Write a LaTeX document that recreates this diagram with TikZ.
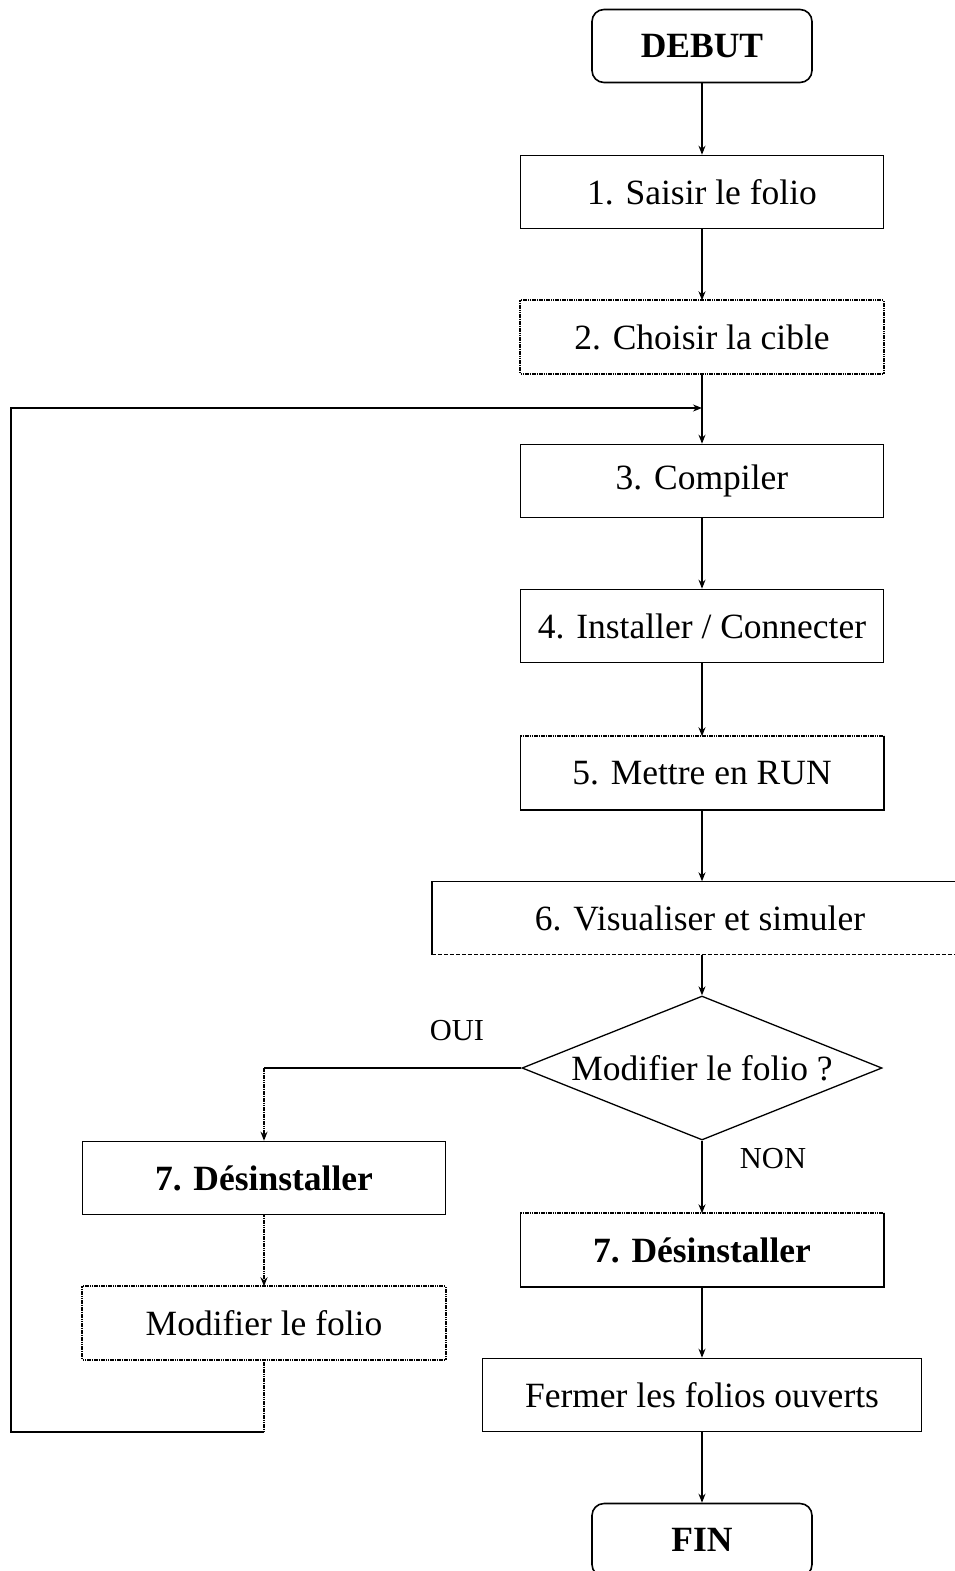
\documentclass[tikz,border=0pt]{standalone}
\usepackage{fontspec}
\setmainfont{Liberation Serif}
\usetikzlibrary{positioning,arrows.meta,shapes.geometric}

\begin{document}
\begin{tikzpicture}[x=1pt,y=-1pt,
    box/.style={minimum width=363pt,minimum height=73pt,inner sep=0pt,font=\fontsize{35.5}{40}\selectfont},
    blk/.style={box,draw,line width=1.6pt},
    term/.style={blk,rounded corners=12pt,minimum width=220pt,font=\fontsize{35.5}{40}\selectfont\bfseries},
    lbl/.style={inner sep=0pt,font=\fontsize{30.5}{34}\selectfont},
    edge/.style={line width=1.6pt},
    dots/.style={line width=1.9pt,dash pattern=on 1.6pt off 0.7pt},
    fine dash/.style={line width=1.2pt,dash pattern=on 4pt off 2pt},
    lnk/.style={line width=1.3pt},
    tip/.style={-{Stealth[length=9pt,width=7pt]}}]
    \useasboundingbox (0,0) rectangle (954,1571);

    \node[term] (debut) at (702,46) {DEBUT};
    \node[blk] (saisir) at (702,192) {1. Saisir le folio};
    \node[box] (cible) at (702,337) {2. Choisir la cible};
    \node[blk] (compil) at (702,481) {3. Compiler};
    \node[blk] (instal) at (702,626) {4. Installer / Connecter};
    \node[box] (run) at (702,773) {5. Mettre en RUN};
    \node[box,minimum width=536pt] (visu) at (700,918) {6. Visualiser et simuler};
    \node[draw,diamond,aspect=2.5,minimum width=360pt,minimum height=144pt,inner sep=0pt,
          line width=1.3pt,font=\fontsize{35.5}{40}\selectfont] (modq) at (702,1068) {Modifier le folio ?};
    \node[box,font=\fontsize{35.5}{40}\selectfont\bfseries] (desR) at (702,1250) {7. Désinstaller};
    \node[blk,minimum width=439pt] (fermer) at (702,1395) {Fermer les folios ouverts};
    \node[term] (fin) at (702,1540) {FIN};

    \node[blk,font=\fontsize{35.5}{40}\selectfont\bfseries] (desL) at (264,1178) {7. Désinstaller};
    \node[box] (modif) at (264,1323) {Modifier le folio};

    \node[lbl] (oui) at (457,1031) {OUI};
    \node[lbl] (non) at (773,1159) {NON};

    \draw[dots] (cible.north west) rectangle (cible.south east);
    \draw[edge] (run.north east) -- (run.south east) -- (run.south west) -- (run.north west);
    \draw[dots] (run.north west) -- (run.north east);
    \draw[edge] (visu.south west) -- (visu.north west) -- (visu.north east);
    \draw[fine dash] (visu.south west) -- (visu.south east);
    \draw[edge] (desR.north east) -- (desR.south east) -- (desR.south west) -- (desR.north west);
    \draw[dots] (desR.north west) -- (desR.north east);
    \draw[dots] (modif.north west) rectangle (modif.south east);

    \coordinate (join) at (702,408);
    \coordinate (ouiturn) at (desL.north |- modq.west);
    \coordinate (back1) at (264,1432);
    \coordinate (back2) at (11,1432);
    \coordinate (back3) at (11,408);

    \begin{scope}[lnk]
        \draw[tip] (debut) -- (saisir);
        \draw[tip] (saisir) -- (cible);
        \draw[tip] (cible) -- (compil);
        \draw[tip] (compil) -- (instal);
        \draw[tip] (instal) -- (run);
        \draw[tip] (run) -- (run.south |- visu.north);
        \draw[tip] (visu.south -| modq.north) -- (modq.north);
        \draw[tip] (modq.south) -- (desR);
        \draw[tip] (desR) -- (fermer);
        \draw[tip] (fermer) -- (fin);
        \draw (modq.west) -- (ouiturn);
        \draw[tip,line width=1.6pt,dash pattern=on 1.6pt off 0.7pt] (ouiturn) -- (desL.north);
        \draw[tip,line width=1.6pt,dash pattern=on 1.6pt off 0.7pt] (desL) -- (modif);
        \draw[line width=1.6pt,dash pattern=on 1.6pt off 0.7pt] (modif.south) -- (back1);
        \draw[tip] (back1) -- (back2) -- (back3) -- (join);
    \end{scope}
\end{tikzpicture}
\end{document}
